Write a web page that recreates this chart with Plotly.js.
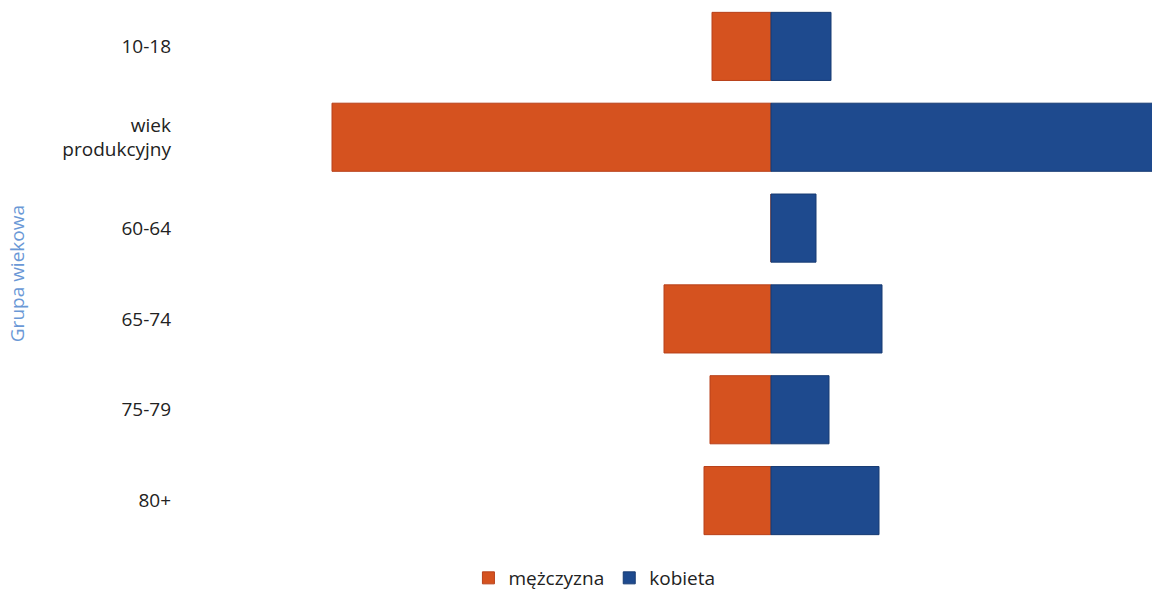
<!DOCTYPE html>
<html><head><meta charset="utf-8">
<script src="https://cdn.plot.ly/plotly-3.0.1.min.js"></script>
<style>html,body{margin:0;padding:0;background:#fff}#chart{width:1152px;height:591px}</style>
</head><body><div id="chart"></div>
<script>
const categories = ["10-18", "wiek<br>produkcyjny", "60-64", "65-74", "75-79", "80+"];
const menValues = [59, 439, 0, 107, 61, 67];
const womenValues = [60, 384, 45, 111, 58, 108];
const seriesNames = ["mężczyzna", "kobieta"];
const axisTitle = "Grupa wiekowa";

const traces = [
  {type:'bar', orientation:'h', name:seriesNames[0], y:categories, x:menValues.map(v=>-v),
   marker:{color:'#d5521f', line:{color:'#b8401a', width:1}}, hoverinfo:'skip'},
  {type:'bar', orientation:'h', name:seriesNames[1], y:categories, x:womenValues,
   marker:{color:'#1e4a8e', line:{color:'#173b73', width:1}}, hoverinfo:'skip'}
];
const layout = {
  width:1152, height:591,
  margin:{l:180, r:0, t:1, b:45},
  paper_bgcolor:'#fff', plot_bgcolor:'#fff',
  barmode:'relative', bargap:0.25,
  font:{family:'Open Sans, Noto Sans, sans-serif', size:19, color:'#222'},
  xaxis:{range:[-591,381], showticklabels:false, showgrid:false, zeroline:false, showline:false, ticks:''},
  yaxis:{autorange:'reversed', showgrid:false, zeroline:false, showline:false, ticks:'', ticklabelstandoff:8,
         tickfont:{size:19}},
  annotations:[{text:axisTitle, textangle:-90, xref:'paper', x:-0.168, xanchor:'center', yref:'paper', y:0.5, yanchor:'middle',
         showarrow:false, font:{color:'#6a98d6', size:19}}],
  showlegend:true,
  legend:{orientation:'h', xref:'container', yref:'container', x:0.516, xanchor:'center', y:0.022, yanchor:'middle',
          font:{size:19, color:'#222'}, itemwidth:30, traceorder:'normal'}
};
Plotly.newPlot('chart', traces, layout, {displayModeBar:false, staticPlot:true});
</script></body></html>
